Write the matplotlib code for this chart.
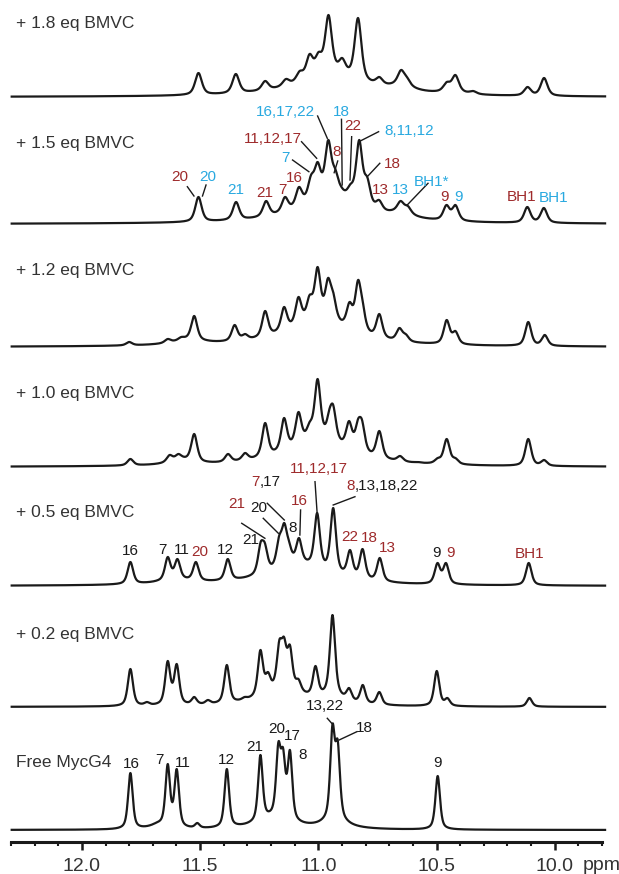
import numpy as np
import matplotlib
matplotlib.use('Agg')
import matplotlib.pyplot as plt
from matplotlib import font_manager as fm
from matplotlib.ticker import MultipleLocator, FixedLocator, FixedFormatter

# ---------------- data (peak tables) ----------------
conditions = ['+ 1.8 eq BMVC', '+ 1.5 eq BMVC', '+ 1.2 eq BMVC', '+ 1.0 eq BMVC',
              '+ 0.5 eq BMVC', '+ 0.2 eq BMVC', 'Free MycG4']

pos_18 = [11.507, 11.349, 11.225, 11.137, 11.079, 11.037, 10.999, 10.957, 10.899, 10.832,
          10.742, 10.650, 10.625, 10.457, 10.420, 10.345, 10.115, 10.045]
hgt_18 = [24, 23, 16, 18, 26, 43, 45, 82, 39, 79, 20, 27, 20, 15, 22, 6, 10, 19]
bg_18 = [(10.95, 22, 0.17), (10.65, 6, 0.07), (10.43, 3, 0.05)]

pos_15 = [11.507, 11.348, 11.221, 11.141, 11.082, 11.031, 11.003, 10.958, 10.928, 10.902,
          10.864, 10.827, 10.793, 10.743, 10.652, 10.621, 10.458, 10.420, 10.116, 10.046]
hgt_15 = [27, 22, 23, 27, 37, 49, 62, 84, 55, 37, 40, 84, 47, 24, 23, 18, 19, 19, 17, 16]
bg_15 = [(10.95, 26, 0.16), (10.65, 6, 0.06)]

pos_12 = [11.800, 11.637, 11.580, 11.525, 11.354, 11.310, 11.225, 11.145, 11.084, 11.037,
          11.003, 10.959, 10.937, 10.868, 10.832, 10.813, 10.742, 10.657, 10.630, 10.457,
          10.420, 10.112, 10.042]
hgt_12 = [5, 8, 10, 31, 22, 13, 36, 40, 50, 52, 80, 69, 55, 45, 67, 47, 33, 19, 13, 27,
          16, 25, 12]
bg_12 = [(11.0, 25, 0.17), (11.55, 5, 0.08)]

pos_10 = [11.795, 11.629, 11.592, 11.525, 11.382, 11.310, 11.225, 11.145, 11.084, 11.037,
          11.003, 10.953, 10.937, 10.870, 10.832, 10.815, 10.742, 10.654, 10.579, 10.495,
          10.457, 10.420, 10.112, 10.045]
hgt_10 = [8, 12, 13, 33, 13, 14, 44, 49, 55, 45, 88, 58, 62, 46, 48, 47, 36, 11, 5, 9,
          28, 9, 28, 7]
bg_10 = [(11.0, 25, 0.17), (11.58, 5, 0.06)]

pos_05 = [11.795, 11.637, 11.596, 11.518, 11.383, 11.244, 11.226, 11.166, 11.144, 11.124,
          11.082, 11.005, 10.937, 10.866, 10.813, 10.740, 10.496, 10.460, 10.110]
hgt_05 = [24, 29, 27, 24, 27, 44, 43, 50, 63, 45, 48, 73, 78, 36, 37, 28, 23, 23, 23]
bg_05 = [(11.08, 20, 0.16), (11.6, 4, 0.1)]

pos_02 = [11.795, 11.725, 11.637, 11.599, 11.525, 11.467, 11.387, 11.312, 11.245, 11.213,
          11.165, 11.145, 11.120, 11.084, 11.012, 10.940, 10.870, 10.812, 10.742, 10.499,
          10.454, 10.107]
hgt_02 = [38, 5, 46, 43, 10, 7, 42, 10, 57, 35, 67, 70, 62, 28, 41, 92, 19, 22, 15, 36,
          9, 9]
bg_02 = [(11.15, 15, 0.12), (10.94, 8, 0.05)]

pos_free = [11.795, 11.637, 11.599, 11.512, 11.387, 11.320, 11.245, 11.169, 11.149, 11.120,
            10.940, 10.918, 10.837, 10.495]
hgt_free = [57, 66, 61, 7, 61, 6, 75, 88, 82, 80, 106, 90, 4, 54]
bg_free = [(11.19, 10, 0.09), (10.93, 8, 0.06), (11.68, 4, 0.04)]

# ---------------- layout / style ----------------
R = '#9e2a2b'
B = '#29a9e0'
K = '#1a1a1a'
G = '#333333'

names = {f.name for f in fm.fontManager.ttflist}
NARROW = 'Liberation Sans Narrow' in names
LAB_FONT = 'Liberation Sans Narrow' if NARROW else 'Liberation Sans'
COND_SIZE = 15 if NARROW else 12.5
PEAK_SIZE = 13 if NARROW else 11
plt.rcParams['font.family'] = ['Liberation Sans', 'DejaVu Sans']

W, H = 619, 874
TOP = 841.7  # axis line in pixel rows
baselines_px = [97, 224, 347, 467, 586, 707, 830]
cond_dy = [74, 81, 77, 74, 74, 72, 68]
widths = [0.017, 0.016, 0.015, 0.015, 0.014, 0.013, 0.0115]
ETA = 0.6

spectra = [(pos_18, hgt_18, bg_18), (pos_15, hgt_15, bg_15), (pos_12, hgt_12, bg_12),
           (pos_10, hgt_10, bg_10), (pos_05, hgt_05, bg_05), (pos_02, hgt_02, bg_02),
           (pos_free, hgt_free, bg_free)]


def lor(x, p, w):
    return 1.0 / (1.0 + ((x - p) / w) ** 2)


def pv(x, p, w):
    d = (x - p) / w
    return ETA / (1.0 + d ** 2) + (1 - ETA) * np.exp(-np.log(2) * d ** 2)


def build(x, pos, hgt, bg, w):
    pos = np.asarray(pos, float)
    hgt = np.asarray(hgt, float)
    base = np.zeros_like(x)
    base_at = np.zeros(len(pos))
    for p, a, bw in bg:
        base += a * lor(x, p, bw)
        base_at += a * lor(pos, p, bw)
    A = pv(pos[:, None], pos[None, :], w)
    amp = hgt.copy()
    for _ in range(400):
        for i in range(len(pos)):
            r = hgt[i] - base_at[i] - A[i] @ amp + A[i, i] * amp[i]
            amp[i] = max(r, 0.0)
    return base + (amp[None, :] * pv(x[:, None], pos[None, :], w)).sum(axis=1)


fig = plt.figure(figsize=(W / 100, H / 100), dpi=100)
ax = fig.add_axes([11 / W, 1 - TOP / H, 591 / W, TOP / H])
ax.set_xlim(12.3, 9.8)
ax.set_ylim(0, TOP)

x = np.linspace(12.297, 9.787, 3000)
offsets = [TOP - b for b in baselines_px]
for (pos, hgt, bg), off, w in zip(spectra, offsets, widths):
    y = build(x, pos, hgt, bg, w)
    ax.plot(x, off + y, color=K, lw=1.6, clip_on=False, solid_joinstyle='round')

for name, off, dy in zip(conditions, offsets, cond_dy):
    ax.text(12.279, off + dy, name, ha='left', va='center', fontsize=COND_SIZE,
            color=G, family=[LAB_FONT, 'DejaVu Sans'])

# ---------------- peak labels ----------------
lab_15 = [('20', 11.585, 47, R), ('20', 11.469, 47, B), ('21', 11.348, 34, B), ('21', 11.226, 31, R),
          ('7', 11.152, 34, R), ('16', 11.103, 45.7, R), ('7', 11.141, 65.7, B),
          ('11,12,17', 11.191, 84.7, R), ('16,17,22', 11.137, 112.3, B), ('18', 10.902, 112.3, B),
          ('8', 10.923, 72.3, R), ('22', 10.855, 98, R), ('8,11,12', 10.616, 93.3, B),
          ('18', 10.686, 60, R), ('13', 10.737, 34, R), ('13', 10.655, 34, B),
          ('BH1*', 10.521, 42.3, B), ('9', 10.465, 27.3, R), ('9', 10.405, 27.3, B),
          ('BH1', 10.141, 27.3, R), ('BH1', 10.005, 25.7, B)]
lines_15 = [(11.554, 37.3, 11.526, 28), (11.475, 39, 11.490, 28), (11.109, 64, 11.040, 52.3),
            (11.071, 82.3, 11.007, 65.7), (11.003, 108, 10.962, 85.7), (10.902, 104.7, 10.899, 39),
            (10.918, 63, 10.933, 51.3), (10.859, 87.3, 10.866, 44), (10.745, 92.3, 10.820, 83.3),
            (10.740, 60.7, 10.793, 47.3), (10.536, 40.7, 10.624, 19)]

lab_05 = [('16', 11.796, 35, K), ('7', 11.659, 36, K), ('11', 11.578, 36, K), ('20', 11.500, 34.3, R),
          ('12', 11.392, 36, K), ('21', 11.286, 46, K), ('21', 11.345, 81.7, R), ('20', 11.254, 77.7, K),
          ('8', 11.109, 57.7, K), ('16', 11.082, 85.3, R), ('11,12,17', 10.999, 116.7, R),
          ('22', 10.869, 49.3, R), ('18', 10.785, 47.7, R), ('13', 10.709, 37.7, R),
          ('9', 10.500, 32.7, K), ('9', 10.441, 32.7, R), ('BH1', 10.106, 32, R)]
multi_05 = [(('7', ',17'), (R, K), 11.247, 104.3), (('8', ',13,18,22'), (R, K), 10.845, 100)]
lines_05 = [(11.324, 62.7, 11.226, 47.7), (11.233, 67.7, 11.169, 52.7), (11.216, 82.7, 11.144, 66),
            (11.075, 76, 11.078, 51), (11.014, 104.3, 11.005, 72.7), (10.845, 89.3, 10.937, 81)]

lab_free = [('16', 11.792, 66, K), ('7', 11.670, 70, K), ('11', 11.574, 66.7, K), ('12', 11.387, 70, K),
            ('21', 11.270, 82.7, K), ('20', 11.175, 101, K), ('17', 11.109, 94.3, K), ('8', 11.065, 75, K),
            ('13,22', 10.970, 124, K), ('18', 10.804, 101.7, K), ('9', 10.495, 66.7, K)]
lines_free = [(10.962, 111.7, 10.937, 105), (10.837, 98.3, 10.912, 90)]

for labs, lines, idx in [(lab_15, lines_15, 1), (lab_05, lines_05, 4), (lab_free, lines_free, 6)]:
    off = offsets[idx]
    for t, p, dy, c in labs:
        ax.text(p, off + dy, t, ha='center', va='center', fontsize=PEAK_SIZE, color=c,
                family=[LAB_FONT, 'DejaVu Sans'])
    for p1, d1, p2, d2 in lines:
        ax.plot([p1, p2], [off + d1, off + d2], color=K, lw=1.0)

off = offsets[4]
for parts, cols, p, dy in multi_05:
    ax.text(p, off + dy, parts[0], ha='right', va='center', fontsize=PEAK_SIZE, color=cols[0],
            family=[LAB_FONT, 'DejaVu Sans'])
    ax.text(p, off + dy, parts[1], ha='left', va='center', fontsize=PEAK_SIZE, color=cols[1],
            family=[LAB_FONT, 'DejaVu Sans'])

# ---------------- axis ----------------
for s in ['top', 'left', 'right']:
    ax.spines[s].set_visible(False)
ax.spines['bottom'].set_linewidth(2.2)
ax.spines['bottom'].set_color(K)
ax.set_yticks([])
ticks = [12.0, 11.5, 11.0, 10.5, 10.0]
ax.xaxis.set_major_locator(FixedLocator(ticks))
ax.xaxis.set_major_formatter(FixedFormatter(['12.0', '11.5', '11.0', '10.5', '10.0']))
ax.xaxis.set_minor_locator(MultipleLocator(0.1))
ax.tick_params(axis='x', which='major', direction='out', length=5.5, width=1.8, color=K,
               labelsize=14, labelcolor=G, pad=6)
ax.tick_params(axis='x', which='minor', direction='out', length=3, width=1.5, color=K)
fig.text(582.7 / W, 1 - 866.0 / H, 'ppm', ha='left', va='center', fontsize=14, color=G)

fig.savefig('out.png', dpi=100)
